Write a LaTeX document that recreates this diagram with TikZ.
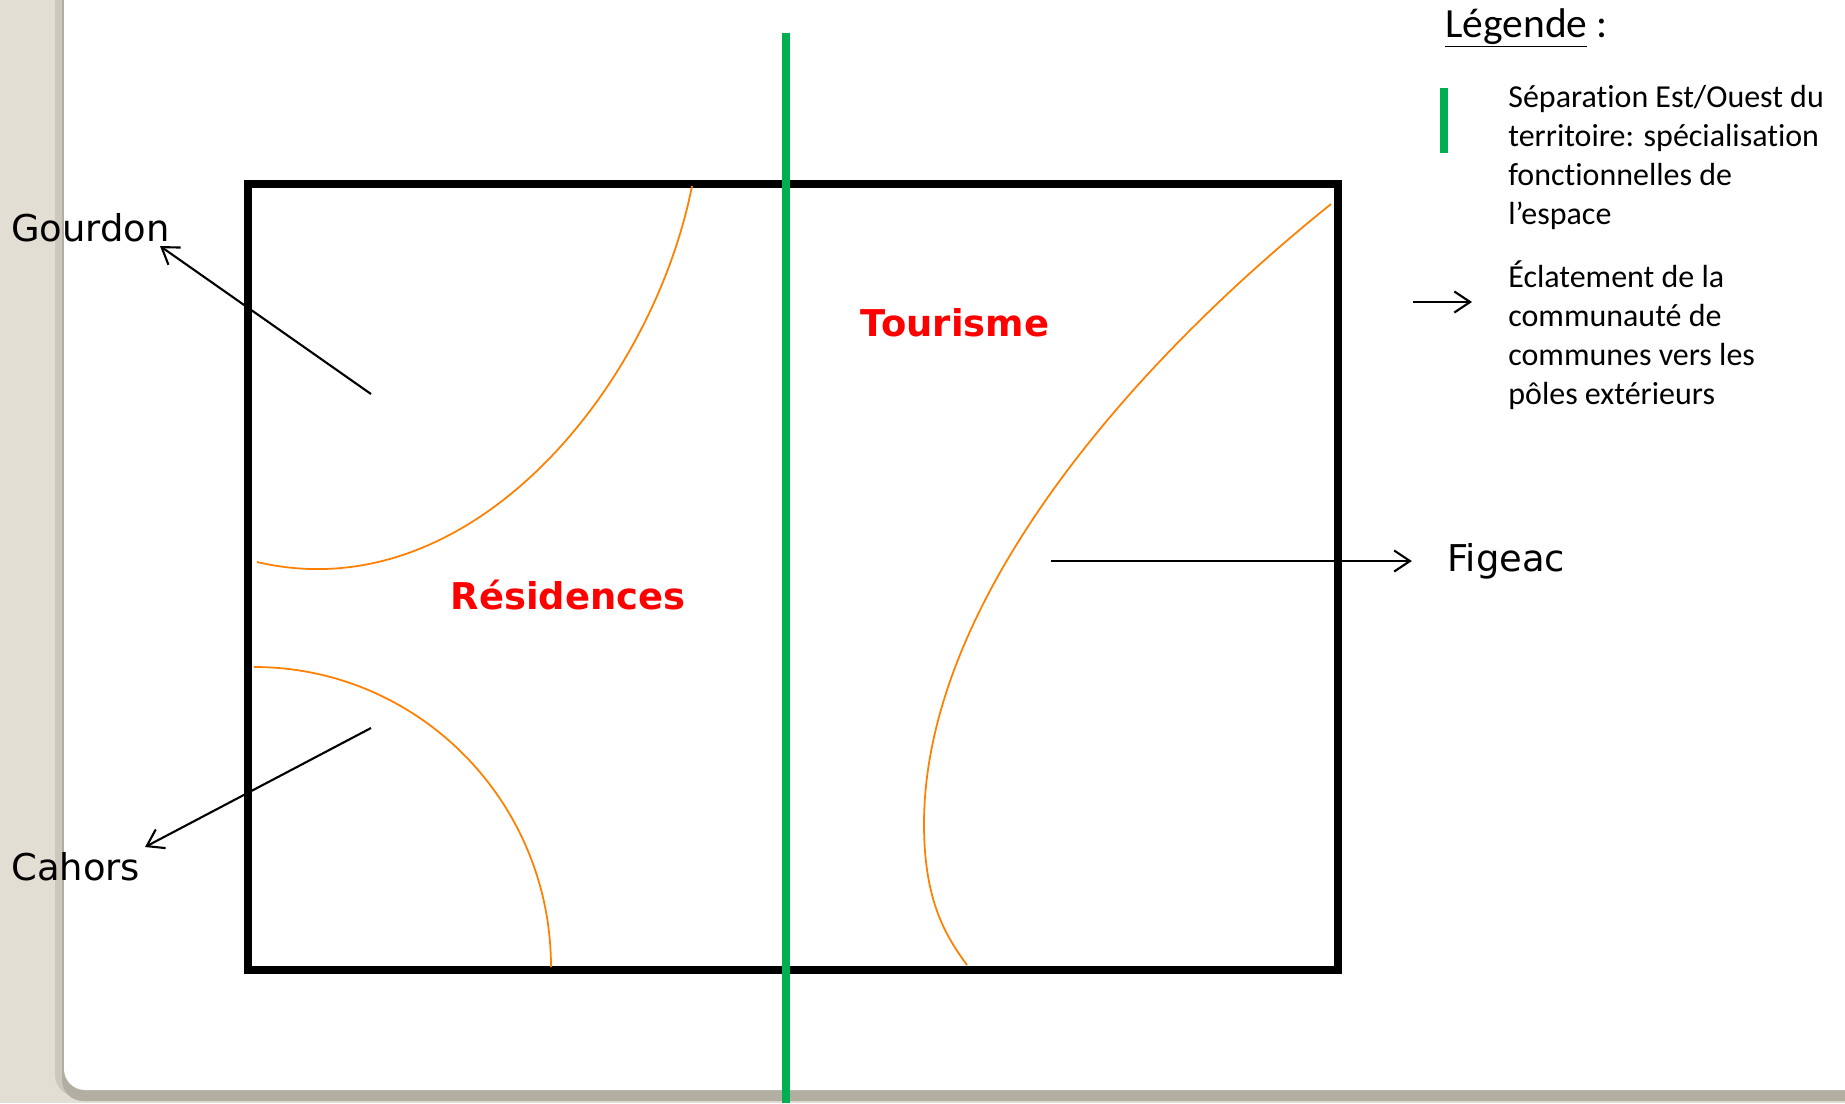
\documentclass[tikz,border=0pt]{standalone}
\usepackage{fontspec}
\setmainfont[Ligatures=NoCommon]{Carlito}
\newfontfamily\verd{DejaVu Sans}
\usetikzlibrary{arrows.meta}

\definecolor{fond}{RGB}{227,222,211}
\definecolor{ombre}{RGB}{178,174,162}
\definecolor{ombreG}{RGB}{204,200,189}
\definecolor{vertsep}{RGB}{0,176,80}
\definecolor{orange}{RGB}{255,128,0}

\tikzset{
  ville/.style={anchor=west,inner sep=0pt,font=\verd\fontsize{21}{25}\selectfont},
  zone/.style={inner sep=0pt,text=red,font=\verd\bfseries\fontsize{21}{25}\selectfont},
  fleche/.style={line width=1.2pt,-{Straight Barb[length=9pt,width=12pt,line width=1.2pt]}},
  limite/.style={orange,line width=1pt},
  legende/.style={anchor=north west,inner sep=0pt,align=left,font=\fontsize{18.2}{22.1}\selectfont},
}

\begin{document}
\begin{tikzpicture}[x=0.02cm,y=-0.02cm]
			\useasboundingbox (0,0) rectangle (1845,1103);
			\clip (0,0) rectangle (1845,1103);

			% fond de la diapositive
			\fill[fond] (0,0) rectangle (1845,1103);
			\fill[ombreG,rounded corners=12] (55,-40) rectangle (1900,1096);
			\fill[ombre,rounded corners=12] (62,-40) rectangle (1900,1101);
			\fill[white,rounded corners=12] (64,-40) rectangle (1900,1090);

			% territoire
			\draw[line width=4.5pt] (248,184) rectangle (1338,970);

			% limites des zones
			\draw[limite] (692,186) .. controls (652,388) and (470,612) .. (257,562);
			\draw[limite] (254,667) .. controls (418,667) and (551,801) .. (551,967);
			\draw[limite] (1331,204) .. controls (1100,390) and (924,620) .. (924,824)
			              .. controls (924,900) and (945,935) .. (967,965);

			% separation est/ouest
			\coordinate (sepH) at (786,33);
			\coordinate (sepB) at (786,1103);
			\draw[vertsep,line width=4pt] (sepH) -- (sepB);

			\node[zone] (residences) at (568,595) {Résidences};
			\node[zone] (tourisme) at (955,323) {Tourisme};

			% poles exterieurs
			\node[ville] (gourdon) at (11,228) {Gourdon};
			\node[ville] (cahors) at (11,867) {Cahors};
			\node[ville] (figeac) at (1447,561) {Figeac};

			\coordinate (depG) at (371,394);
			\coordinate (depC) at (371,728);
			\coordinate (depF) at (1051,561);
			\draw[fleche] (depG) -- (160,246);
			\draw[fleche] (depC) -- (145,847);
			\draw[fleche,shorten >=20pt] (depF) -- (depF -| figeac.west);

			% legende
			\node[anchor=base west,inner sep=0pt,font=\fontsize{23.6}{27}\selectfont]
			  (titre) at (1445,37) {\underline{Légende} :};
			\coordinate (barH) at (1444,88);
			\coordinate (barB) at (1444,153);
			\draw[vertsep,line width=4.5pt] (barH) -- (barB);
			\node[legende] (leg1) at (1508,85)
			  {Séparation Est/Ouest du\\territoire: spécialisation\\fonctionnelles de\\l’espace};
			\coordinate (flH) at (1413,302);
			\coordinate (flB) at (1472,302);
			\draw[fleche] (flH) -- (flB);
			\node[legende] (leg2) at (1508,260.5)
			  {Éclatement de la\\communauté de\\communes vers les\\pôles extérieurs};
\end{tikzpicture}
\end{document}
